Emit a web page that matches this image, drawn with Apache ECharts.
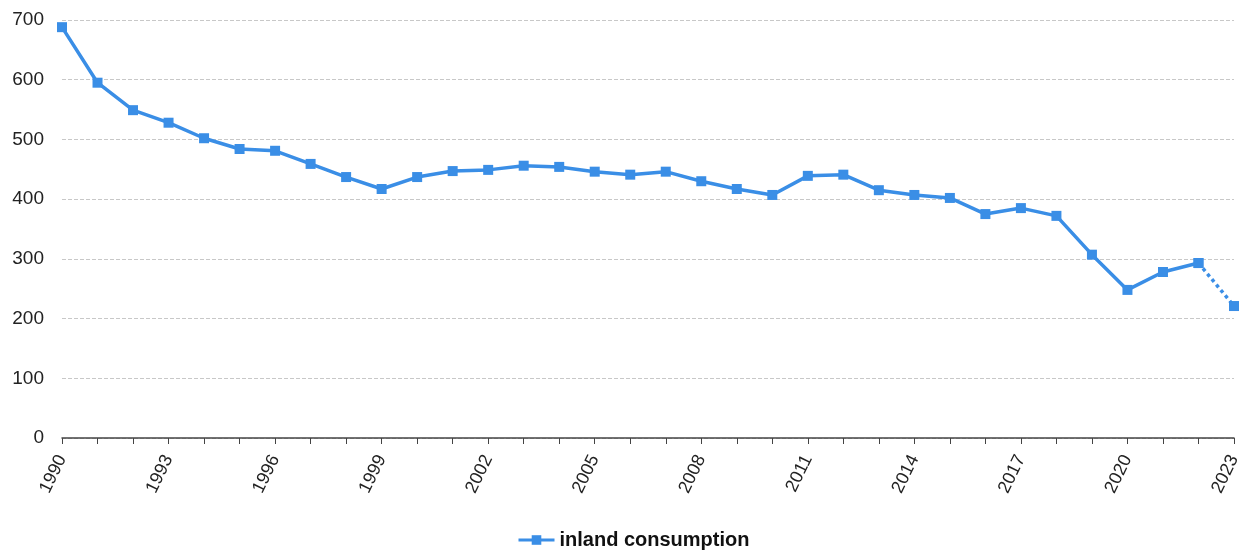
<!DOCTYPE html>
<html><head><meta charset="utf-8">
<script src="https://cdn.jsdelivr.net/npm/echarts@6/dist/echarts.min.js"></script>
<style>html,body{margin:0;padding:0;background:#fff}#c{width:1244px;height:554px}</style>
</head><body><div id="c"></div>
<script>
var years = ['1990','1991','1992','1993','1994','1995','1996','1997','1998','1999','2000','2001','2002','2003','2004','2005','2006','2007','2008','2009','2010','2011','2012','2013','2014','2015','2016','2017','2018','2019','2020','2021','2022','2023'];
var consumption = [688,595,549,528,502,484,481,459,437,417,437,447,449,456,454,446,441,446,430,417,407,439,441,415,407,402,375,385,372,307,248,278,293,221];
var solidValues = consumption.map(function(v,i){return i <= 32 ? v : null;});
var dottedValues = consumption.map(function(v,i){return i >= 32 ? v : null;});
var color = '#3a8ee6';
var chart = echarts.init(document.getElementById('c'));
chart.setOption({
  animation:false,
  grid:{left:62,right:10,top:20,bottom:116},
  legend:{top:525,left:512,data:['inland consumption'],itemWidth:36,itemHeight:12,itemGap:4,
    lineStyle:{width:3},
    textStyle:{fontFamily:'Liberation Sans, Arial',fontSize:20,fontWeight:'bold',color:'#111'}},
  xAxis:{type:'category',data:years,boundaryGap:false,
    axisLine:{lineStyle:{color:'#444',width:1.5}},
    axisTick:{show:true,interval:0,length:6,lineStyle:{color:'#444'}},
    axisLabel:{interval:2,rotate:64,fontFamily:'Liberation Sans, Arial',fontSize:18,color:'#222',margin:18},
    splitLine:{show:false}},
  yAxis:{type:'value',min:0,max:700,interval:100,
    axisLine:{show:false},axisTick:{show:false},
    axisLabel:{fontFamily:'Liberation Sans, Arial',fontSize:19,color:'#222',margin:18},
    splitLine:{lineStyle:{color:'#c8c8c8',type:'dashed',width:1}}},
  series:[
    {name:'inland consumption',type:'line',data:solidValues,symbol:'rect',symbolSize:10,
     itemStyle:{color:color},lineStyle:{color:color,width:3.5}},
    {name:'inland consumption (est.)',type:'line',data:dottedValues,symbol:'rect',symbolSize:10,
     itemStyle:{color:color},lineStyle:{color:color,width:3.5,type:'dotted'}}
  ]
});
</script></body></html>
